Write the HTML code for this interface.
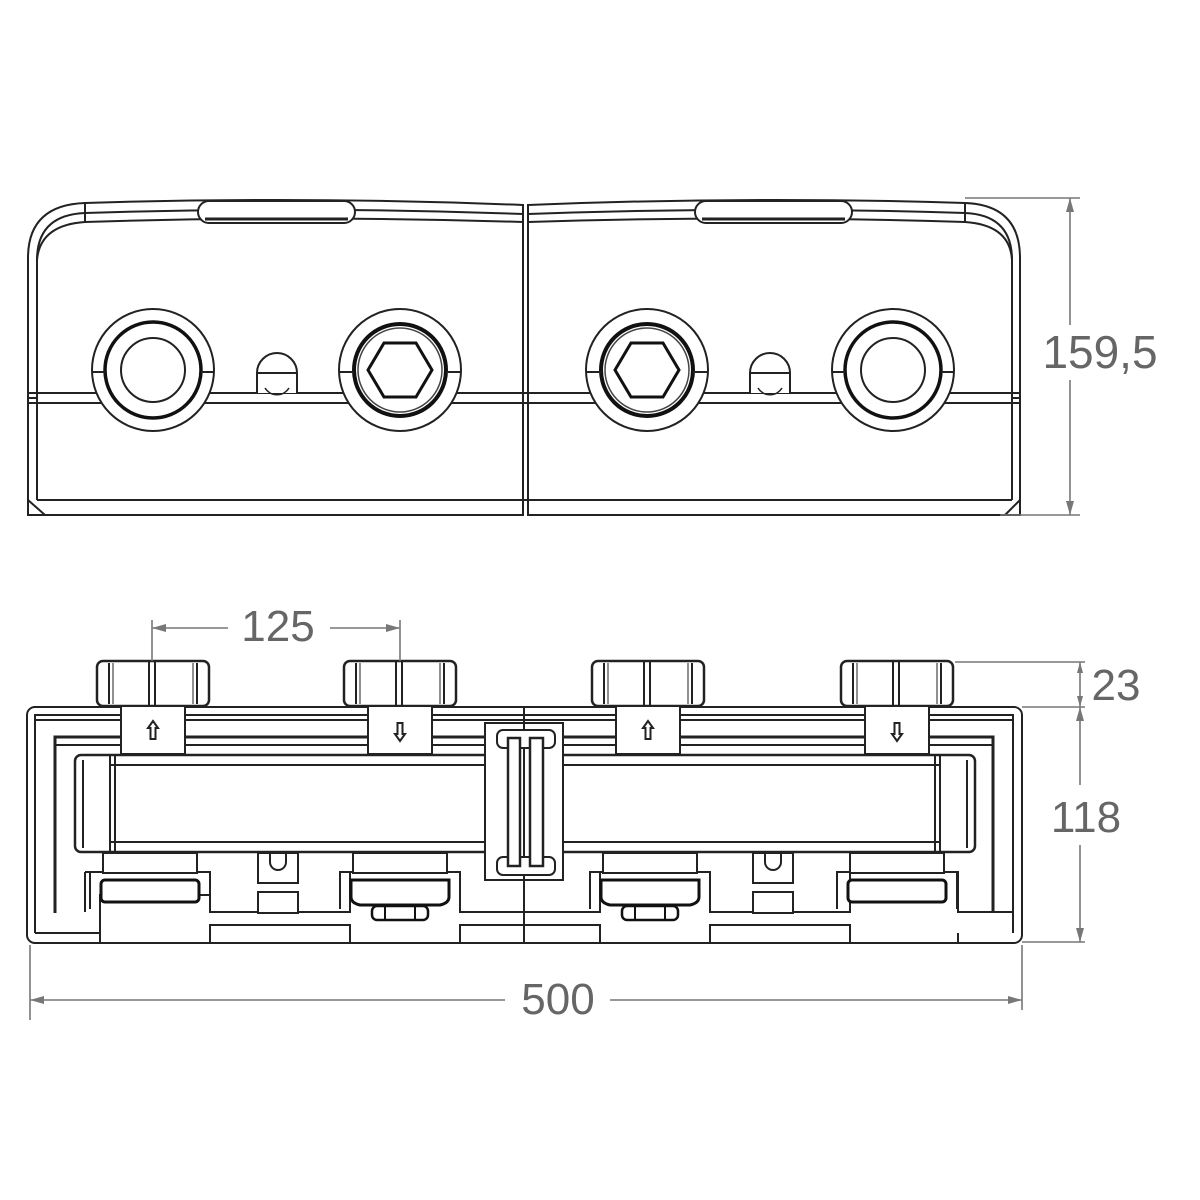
<!DOCTYPE html>
<html><head><meta charset="utf-8"><style>
html,body{margin:0;padding:0;background:#fff;width:1200px;height:1200px;overflow:hidden}
svg{display:block}
text{font-family:"Liberation Sans",sans-serif;fill:#666}
</style></head><body>
<svg width="1200" height="1200" viewBox="0 0 1200 1200" xmlns="http://www.w3.org/2000/svg">
<defs>
<g id="ringPlain">
  <circle r="61" fill="#fff" stroke="#222" stroke-width="2"/>
  <circle r="48" fill="none" stroke="#111" stroke-width="3.5"/>
  <circle r="32" fill="none" stroke="#222" stroke-width="2"/>
  <line x1="-61" y1="2" x2="-48" y2="2" stroke="#222" stroke-width="2"/>
  <line x1="48" y1="2" x2="61" y2="2" stroke="#222" stroke-width="2"/>
</g>
<g id="ringHex">
  <circle r="61" fill="#fff" stroke="#222" stroke-width="2"/>
  <circle r="46" fill="none" stroke="#111" stroke-width="4"/>
  <circle r="42" fill="none" stroke="#444" stroke-width="1.5"/>
  <polygon points="-32,0 -16,-27 16,-27 32,0 16,27 -16,27" fill="none" stroke="#111" stroke-width="3"/>
  <line x1="-61" y1="2" x2="-46" y2="2" stroke="#222" stroke-width="2"/>
  <line x1="46" y1="2" x2="61" y2="2" stroke="#222" stroke-width="2"/>
</g>
<g id="screw">
  <path d="M-20,23 L-20,3 A20,20 0 0 1 20,3 L20,23" fill="#fff" stroke="#222" stroke-width="2"/>
  <line x1="-20" y1="3" x2="20" y2="3" stroke="#222" stroke-width="2"/>
  <path d="M-12,18 A14,14 0 0 0 12,18" fill="none" stroke="#222" stroke-width="1.5"/>
</g>
<g id="nut">
  <rect x="-56" y="0" width="112" height="45" rx="6" fill="#fff" stroke="#222" stroke-width="2.5"/>
  <line x1="-44" y1="2" x2="-44" y2="43" stroke="#222" stroke-width="2"/>
  <line x1="-40" y1="2" x2="-40" y2="43" stroke="#222" stroke-width="1"/>
  <line x1="-4" y1="0" x2="-4" y2="45" stroke="#222" stroke-width="2"/>
  <line x1="2" y1="0" x2="2" y2="45" stroke="#222" stroke-width="2"/>
  <line x1="40" y1="2" x2="40" y2="43" stroke="#222" stroke-width="1"/>
  <line x1="44" y1="2" x2="44" y2="43" stroke="#222" stroke-width="2"/>
  <rect x="-32" y="45" width="64" height="48" fill="#fff" stroke="#222" stroke-width="2"/>
</g>
<path id="arrUp" d="M0,-9 L-5,-2 L-2.5,-2 L-2.5,9 L2.5,9 L2.5,-2 L5,-2 Z" fill="#fff" stroke="#222" stroke-width="2"/>
<g id="lowPlain">
  <rect x="-47" y="0" width="94" height="20" fill="#fff" stroke="#222" stroke-width="2"/>
  <path d="M-60,56 L-60,19 L-47,19 M47,19 L60,19 L60,56" fill="none" stroke="#222" stroke-width="2"/>
  <rect x="-49" y="27" width="98" height="22" rx="4" fill="#fff" stroke="#111" stroke-width="3"/>
</g>
<g id="lowValve">
  <rect x="-47" y="0" width="94" height="20" fill="#fff" stroke="#222" stroke-width="2"/>
  <path d="M-60,56 L-60,19 L-47,19 M47,19 L60,19 L60,56" fill="none" stroke="#222" stroke-width="2"/>
  <path d="M-49,27 L49,27 L49,44 Q49,50 40,52 L-40,52 Q-49,50 -49,44 Z" fill="#fff" stroke="#111" stroke-width="3"/>
  <rect x="-28" y="53" width="56" height="14" rx="5" fill="#fff" stroke="#111" stroke-width="2.5"/>
  <line x1="-15" y1="53" x2="-15" y2="67" stroke="#111" stroke-width="2"/>
  <line x1="15" y1="53" x2="15" y2="67" stroke="#111" stroke-width="2"/>
</g>
</defs>

<!-- ============ TOP VIEW ============ -->
<g fill="none" stroke="#222" stroke-width="2">
  <!-- outer left half -->
  <path d="M28,515 L28,258 Q28,205 85,203 Q300,196 523,205 L523,515 Z" fill="#fff"/>
  <path d="M37,500 L37,260 Q37,215 85,213 Q300,206 523,214"/>
  <path d="M85,203 L85,222 M37,260 Q40,225 85,222 Q300,215 523,222"/>
  <!-- outer right half -->
  <path d="M528,205 Q750,196 965,203 Q1020,205 1020,258 L1020,515 L528,515 Z" fill="#fff"/>
  <path d="M528,214 Q750,206 965,213 Q1012,215 1012,260 L1012,500"/>
  <path d="M965,203 L965,222 M1012,260 Q1010,225 965,222 Q750,215 528,222"/>
  <!-- center split -->
  <line x1="523" y1="205" x2="523" y2="515"/>
  <line x1="528" y1="205" x2="528" y2="515"/>
  <!-- horizontal split -->
  <line x1="28" y1="393" x2="1020" y2="393"/>
  <line x1="28" y1="403" x2="1020" y2="403"/>
  <line x1="28" y1="398" x2="37" y2="398"/>
  <line x1="1012" y1="398" x2="1020" y2="398"/>
  <!-- bottom -->
  <line x1="37" y1="500" x2="1012" y2="500"/>
  <line x1="28" y1="500" x2="45" y2="515"/>
  <line x1="1020" y1="500" x2="1005" y2="515"/>
  <!-- slots -->
  <rect x="198" y="201" width="157" height="22" rx="11" fill="#fff" stroke-width="2"/>
  <line x1="205" y1="219" x2="348" y2="219" stroke-width="3"/>
  <rect x="695" y="201" width="157" height="22" rx="11" fill="#fff" stroke-width="2"/>
  <line x1="702" y1="219" x2="845" y2="219" stroke-width="3"/>
</g>
<use href="#ringPlain" x="153" y="370"/>
<use href="#ringHex" x="400" y="370"/>
<use href="#ringHex" x="647" y="370"/>
<use href="#ringPlain" x="893" y="370"/>
<use href="#screw" x="277" y="370"/>
<use href="#screw" x="770" y="370"/>

<!-- ============ BOTTOM VIEW ============ -->
<g fill="none" stroke="#222" stroke-width="2">
  <rect x="27" y="707" width="995" height="236" rx="8" fill="#fff"/>
  <path d="M35,933 L35,715 L1013,715 L1013,933"/>
  <path d="M55,913 L55,737 L993,737 L993,913" stroke-width="3"/>
  <line x1="35" y1="720" x2="1013" y2="720"/>
  <line x1="55" y1="745" x2="993" y2="745" stroke-width="2"/>
  <!-- manifold bar -->
  <rect x="75" y="755" width="900" height="97" rx="6" fill="#fff" stroke-width="2.5"/>
  <line x1="110" y1="765" x2="940" y2="765"/>
  <line x1="110" y1="842" x2="940" y2="842"/>
  <line x1="110" y1="755" x2="110" y2="852"/>
  <line x1="115" y1="755" x2="115" y2="852"/>
  <line x1="935" y1="755" x2="935" y2="852"/>
  <line x1="940" y1="755" x2="940" y2="852"/>
  <line x1="83" y1="760" x2="83" y2="848"/>
  <line x1="967" y1="760" x2="967" y2="848"/>
  <!-- bottom base outline -->
  <path d="M35,933 L100,933 L100,895 L210,895 L210,912 L350,912 L350,872 L460,872 L460,912 L600,912 L600,872 L710,872 L710,912 L850,912 L850,872 L958,872 L958,912 L1013,912 L1013,933"/>
  <path d="M100,943 L100,933 M210,943 L210,925 L350,925 L350,943 M460,943 L460,925 L600,925 L600,943 M710,943 L710,925 L850,925 L850,943 M958,943 L958,933"/>
  <path d="M85,872 L85,912 M85,872 L100,872"/>
  <!-- center clamp -->
  <rect x="485" y="723" width="78" height="157" fill="#fff"/>
  <line x1="524" y1="707" x2="524" y2="943"/>
  <rect x="497" y="730" width="58" height="18" rx="6" fill="#fff"/>
  <rect x="497" y="857" width="58" height="18" rx="6" fill="#fff"/>
  <rect x="508" y="738" width="12" height="128" fill="#fff" stroke-width="2.5"/>
  <rect x="530" y="738" width="13" height="128" fill="#fff" stroke-width="2.5"/>
  <!-- small middle elements -->
  <rect x="258" y="853" width="40" height="30" fill="#fff"/>
  <path d="M270,853 L270,862 A8,8 0 0 0 286,862 L286,853"/>
  <rect x="258" y="892" width="40" height="21" fill="#fff"/>
  <rect x="753" y="853" width="40" height="30" fill="#fff"/>
  <path d="M765,853 L765,862 A8,8 0 0 0 781,862 L781,853"/>
  <rect x="753" y="892" width="40" height="21" fill="#fff"/>
</g>
<use href="#lowPlain" x="150" y="853"/>
<use href="#lowValve" x="400" y="853"/>
<use href="#lowValve" x="650" y="853"/>
<use href="#lowPlain" x="897" y="853"/>
<use href="#nut" x="153" y="661"/>
<use href="#nut" x="400" y="661"/>
<use href="#nut" x="648" y="661"/>
<use href="#nut" x="897" y="661"/>
<use href="#arrUp" x="153" y="730"/>
<use href="#arrUp" transform="translate(400,732) rotate(180)"/>
<use href="#arrUp" x="648" y="730"/>
<use href="#arrUp" transform="translate(897,732) rotate(180)"/>

<!-- ============ DIMENSIONS ============ -->
<g stroke="#777" stroke-width="1.6" fill="none">
  <line x1="965" y1="198" x2="1080" y2="198"/>
  <line x1="1000" y1="515" x2="1080" y2="515"/>
  <line x1="1070" y1="198" x2="1070" y2="325"/>
  <line x1="1070" y1="380" x2="1070" y2="515"/>
  <line x1="152" y1="620" x2="152" y2="661"/>
  <line x1="400" y1="620" x2="400" y2="661"/>
  <line x1="152" y1="628" x2="228" y2="628"/>
  <line x1="330" y1="628" x2="400" y2="628"/>
  <line x1="955" y1="662" x2="1085" y2="662"/>
  <line x1="1022" y1="707" x2="1085" y2="707"/>
  <line x1="1022" y1="942" x2="1085" y2="942"/>
  <line x1="1080" y1="662" x2="1080" y2="707"/>
  <line x1="1080" y1="707" x2="1080" y2="785"/>
  <line x1="1080" y1="845" x2="1080" y2="942"/>
  <line x1="30" y1="945" x2="30" y2="1020"/>
  <line x1="1022" y1="945" x2="1022" y2="1010"/>
  <line x1="30" y1="1000" x2="505" y2="1000"/>
  <line x1="610" y1="1000" x2="1022" y2="1000"/>
</g>
<g fill="#777">
  <path d="M1070,198 l-4,14 l8,0 Z"/><path d="M1070,515 l-4,-14 l8,0 Z"/>
  <path d="M152,628 l14,-4 l0,8 Z"/><path d="M400,628 l-14,-4 l0,8 Z"/>
  <path d="M1080,662 l-3,11 l6,0 Z"/><path d="M1080,707 l-3,-11 l6,0 Z"/>
  <path d="M1080,707 l-4,14 l8,0 Z"/><path d="M1080,942 l-4,-14 l8,0 Z"/>
  <path d="M30,1000 l14,-4 l0,8 Z"/><path d="M1022,1000 l-14,-4 l0,8 Z"/>
</g>
<text x="1100" y="368" font-size="46" text-anchor="middle">159,5</text>
<text x="278" y="641" font-size="44" text-anchor="middle">125</text>
<text x="1116" y="700" font-size="44" text-anchor="middle">23</text>
<text x="1086" y="832" font-size="44" text-anchor="middle">118</text>
<text x="558" y="1014" font-size="44" text-anchor="middle">500</text>
</svg>
</body></html>
